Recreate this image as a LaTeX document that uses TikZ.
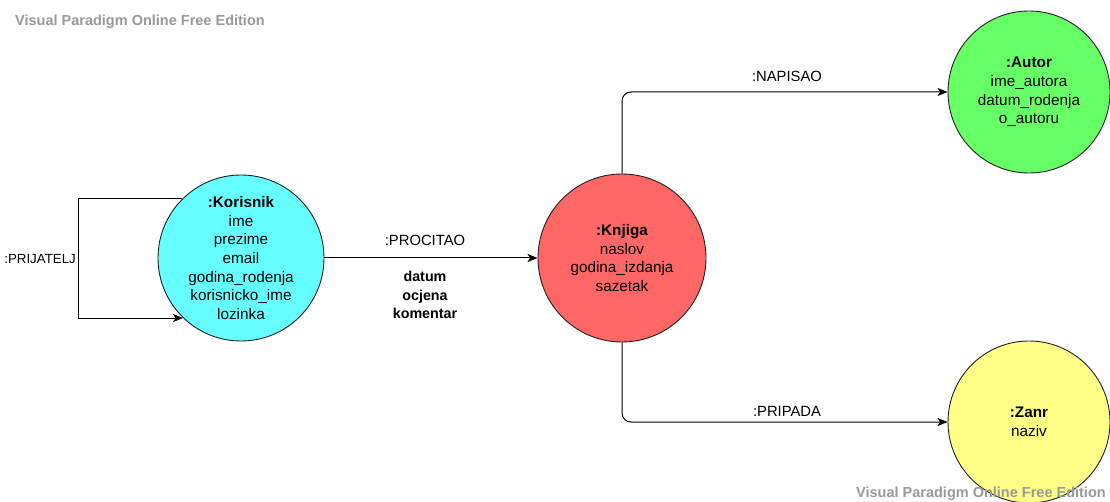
\documentclass[tikz,border=0pt]{standalone}
\usepackage{fontspec}
\setmainfont{Liberation Sans}
\usetikzlibrary{arrows.meta}
\definecolor{cyanfill}{HTML}{66FFFF}
\definecolor{redfill}{HTML}{FF6666}
\definecolor{greenfill}{HTML}{66FF66}
\definecolor{yellowfill}{HTML}{FFFF88}
\definecolor{wmgray}{HTML}{9A9A9A}
\definecolor{edge}{HTML}{222222}
\begin{document}
\begin{tikzpicture}[x=1pt,y=-1pt,
  ent/.style={circle,draw=edge,line width=0.9pt,inner sep=0pt,align=center,
    font=\fontsize{15.3}{18.6}\selectfont},
  conn/.style={draw=black,line width=1pt,-{Stealth[length=10pt,width=8pt,inset=2.5pt]}},
  lbl/.style={font=\fontsize{14.8}{18.6}\selectfont,inner sep=0pt},
  wm/.style={font=\bfseries\fontsize{14.5}{17}\selectfont,text=wmgray,inner sep=0pt}]
\useasboundingbox (0,0) rectangle (1110,502);
\fill[white] (0,0) rectangle (1110,502);

\node[ent,fill=cyanfill,minimum size=166pt] (kor) at (241,258)
  {\textbf{:Korisnik}\\ime\\prezime\\email\\godina\_rodenja\\korisnicko\_ime\\lozinka};
\node[ent,fill=redfill,minimum size=168pt] (knj) at (622,258)
  {\textbf{:Knjiga}\\naslov\\godina\_izdanja\\sazetak};
\node[ent,fill=greenfill,minimum size=162pt] (aut) at (1029,92)
  {\textbf{:Autor}\\ime\_autora\\datum\_rodenja\\o\_autoru};
\node[ent,fill=yellowfill,minimum size=162pt] (zan) at (1029,422)
  {\textbf{:Zanr}\\naziv};

% self loop
\coordinate (lx) at (78,0);
\draw[conn] (kor.135) -- (kor.135 -| lx) -- (kor.226 -| lx) -- (kor.226);
\node[lbl,anchor=east,font=\fontsize{13.3}{16}\selectfont] (lprij) at (76,259) {:PRIJATELJ};

% procitao
\draw[conn] (kor.east) -- (knj.west);
\node[lbl] (lproc) at (425,240) {:PROCITAO};
\node[lbl,align=center,font=\bfseries\fontsize{14.3}{18.2}\selectfont] (lattr) at (425,295) {datum\\ocjena\\komentar};

% napisao / pripada
\draw[conn,rounded corners=9pt] (knj.north) |- (aut.west);
\node[lbl] (lnap) at (787,76) {:NAPISAO};
\draw[conn,rounded corners=9pt] (knj.south) |- (zan.west);
\node[lbl] (lpri) at (787,411) {:PRIPADA};

% watermarks
\node[wm,anchor=west] (wm1) at (15,22) {Visual Paradigm Online Free Edition};
\node[wm,anchor=west] (wm2) at (856,494) {Visual Paradigm Online Free Edition};
\end{tikzpicture}
\end{document}
